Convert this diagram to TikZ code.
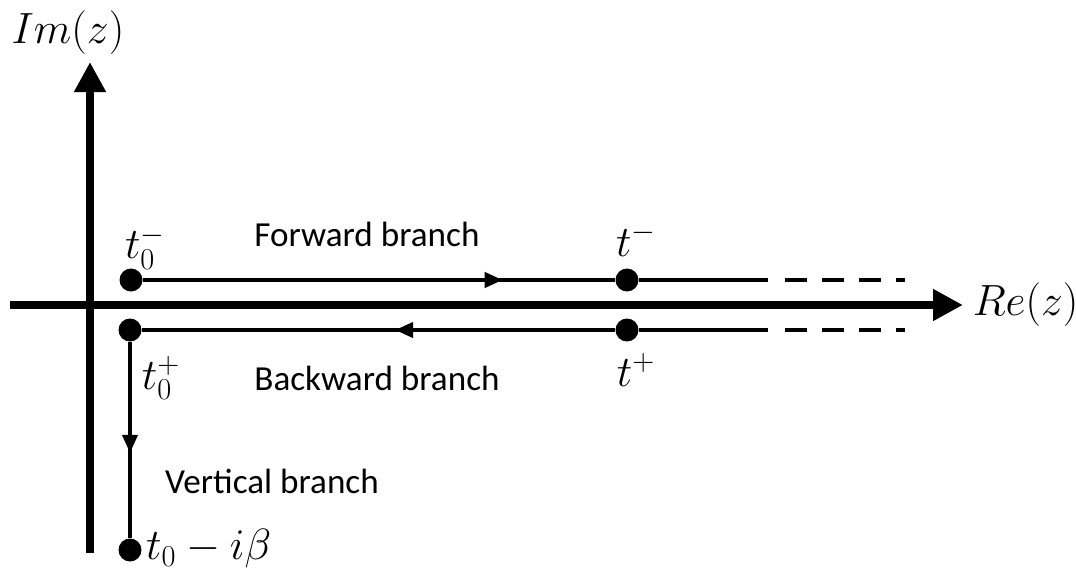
\documentclass[tikz,border=0pt]{standalone}
\usepackage{fontspec}
\setsansfont{Carlito}
\usepackage{tikz}
\usetikzlibrary{arrows.meta, positioning, decorations.markings}

\tikzset{
    axis/.style={line width=4.5pt, -{Triangle[length=0.6cm, width=0.6cm]}},
    branch/.style={line width=2.2pt},
    dot/.style={circle, fill=black, inner sep=0pt, minimum size=0.46cm},
    midarrow/.style={postaction={decorate, decoration={markings,
        mark=at position #1 with {\arrow{Triangle[length=0.36cm, width=0.3cm]}}}}},
    lbl/.style={font=\fontsize{20}{24}\selectfont\sffamily},
    mlbl/.style={font=\fontsize{24}{29}\selectfont}
}

\begin{document}
\begin{tikzpicture}
    \useasboundingbox (-1.8,-5.32) rectangle (19.72,6.1);

    % axes
    \coordinate (O) at (0,0);
    \coordinate (xl) at (-1.6,0);
    \coordinate (xr) at (17.46,0);
    \coordinate (yb) at (0,-4.96);
    \coordinate (yt) at (0,4.86);
    \draw[axis] (xl) -- (xr) node[right, mlbl] {$Re(z)$};
    \draw[axis] (yb) -- (yt);
    \node[mlbl] at (-0.44,5.44) {$Im(z)$};

    % contour points
    \node[dot] (t0m) at (0.82,0.5) {};
    \node[dot] (tm) at (10.74,0.5) {};
    \node[dot] (t0p) at (0.8,-0.5) {};
    \node[dot] (tp) at (10.74,-0.5) {};
    \node[dot] (tb) at (0.8,-4.9) {};
    \coordinate (fs) at (13.56,0.5);
    \coordinate (fd) at (13.9,0.5);
    \coordinate (fe) at (16.3,0.5);
    \coordinate (bs) at (13.56,-0.5);
    \coordinate (bd) at (13.9,-0.5);
    \coordinate (be) at (16.3,-0.5);

    % branches
    \draw[branch, midarrow=0.762] (t0m) -- (tm);
    \draw[branch] (tm) -- (fs);
    \draw[branch, dash pattern=on 0.44cm off 0.3cm] (fd) -- (fe);
    \draw[branch, midarrow=0.465] (tp) -- (t0p);
    \draw[branch] (bs) -- (tp);
    \draw[branch, dash pattern=on 0.44cm off 0.3cm] (bd) -- (be);
    \draw[branch, midarrow=0.566] (t0p) -- (tb);

    % labels
    \node[mlbl] at (1.1,1.15) {$t_0^-$};
    \node[lbl] at (5.54,1.42) {Forward branch};
    \node[mlbl] at (10.92,1.3) {$t^-$};
    \node[mlbl] at (1.42,-1.46) {$t_0^+$};
    \node[lbl] at (5.74,-1.46) {Backward branch};
    \node[mlbl] at (10.92,-1.3) {$t^+$};
    \node[lbl] at (3.64,-3.52) {Vertical branch};
    \node[mlbl, anchor=west] at (1.0,-4.88) {$t_0-i\beta$};
\end{tikzpicture}
\end{document}
